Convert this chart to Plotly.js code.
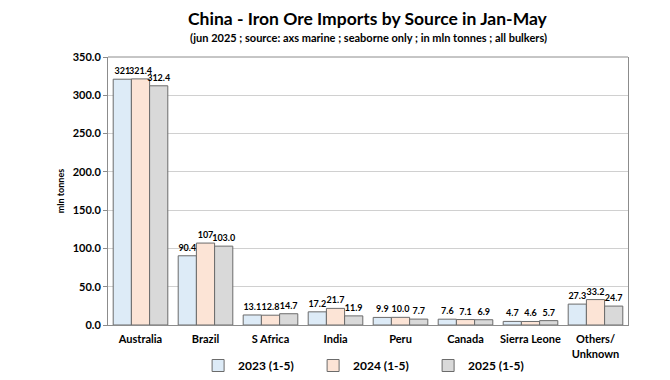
<!DOCTYPE html>
<html><head><meta charset="utf-8">
<script src="https://cdn.plot.ly/plotly-3.0.1.min.js"></script>
<style>body{margin:0;background:#fff}#c{width:670px;height:380px}</style>
</head><body><div id="c"></div>
<script>
const categories = ["Australia","Brazil","S Africa","India","Peru","Canada","Sierra Leone","Others/<br>Unknown"];
const v2023 = [321.0, 90.4, 13.1, 17.2, 9.9, 7.6, 4.7, 27.3];
const v2024 = [321.4, 107.0, 12.8, 21.7, 10.0, 7.1, 4.6, 33.2];
const v2025 = [312.4, 103.0, 14.7, 11.9, 7.7, 6.9, 5.7, 24.7];
const t2023 = ["321","90.4","13.1","17.2","9.9","7.6","4.7","27.3"];
const t2024 = ["321.4","107","12.8","21.7","10.0","7.1","4.6","33.2"];
const t2025 = ["312.4","103.0","14.7","11.9","7.7","6.9","5.7","24.7"];
const names = ["2023 (1-5)","2024 (1-5)","2025 (1-5)"];
const yTicks = [0,50,100,150,200,250,300,350];

const font = "Lato, 'Liberation Sans', sans-serif";
function tr(name, y, t, color){
  return {type:'bar', name:name, x:categories, y:y, text:t, textposition:'outside',
    cliponaxis:false, constraintext:'none',
    textfont:{family:font, size:9, color:'#000', weight:'bold'},
    marker:{color:color, line:{color:'#6b6b6b', width:1}}, hoverinfo:'skip'};
}
const data = [tr(names[0], v2023, t2023, '#ddebf7'), tr(names[1], v2024, t2024, '#fce4d6'), tr(names[2], v2025, t2025, '#d9d9d9')];
const layout = {
  width:670, height:380, margin:{l:108, r:42, t:57, b:55, autoexpand:false},
  paper_bgcolor:'#fff', plot_bgcolor:'#fff',
  font:{family:font, color:'#000'},
  barmode:'group', bargap:0.16, bargroupgap:0,
  showlegend:true,
  legend:{orientation:'h', x:0.505, xanchor:'center', yref:'container', y:-0.008, yanchor:'bottom',
    bgcolor:'rgba(0,0,0,0)', entrywidth:70, entrywidthmode:'pixels',
    font:{size:12, weight:'bold'}, traceorder:'normal', itemwidth:30},
  annotations:[
    {text:"<b>China - Iron Ore Imports by Source in Jan-May</b>", xref:'paper', yref:'paper',
      x:0.5, y:1.145, xanchor:'center', yanchor:'middle', showarrow:false, font:{size:17.5, family:font}},
    {text:"<b>(jun 2025 ; source: axs marine ; seaborne only ; in mln tonnes ; all bulkers)</b>", xref:'paper', yref:'paper',
      x:0.5, y:1.074, xanchor:'center', yanchor:'middle', showarrow:false, font:{size:11, family:font}}
  ],
  xaxis:{tickfont:{size:11, weight:'bold'}, showline:true, linecolor:'#8c8c8c', ticks:'', automargin:false, ticklabelstandoff:4},
  yaxis:{range:[0,350], tickvals:yTicks, ticktext:yTicks.map(v=>v.toFixed(1)), automargin:false,
    tickfont:{size:11, weight:'bold'}, showgrid:true, gridcolor:'#d0d0d0',
    showline:true, linecolor:'#8c8c8c', mirror:true, zeroline:false, ticks:'outside', ticklen:4, tickcolor:'#8c8c8c',
    title:{text:"<b>mln tonnes</b>", font:{size:9}, standoff:6}},
  shapes:[{type:'line', xref:'paper', yref:'paper', x0:0, x1:1, y0:1, y1:1, line:{color:'#8c8c8c', width:1}}]
};
Plotly.newPlot('c', data, layout, {displayModeBar:false, staticPlot:true});
</script></body></html>
